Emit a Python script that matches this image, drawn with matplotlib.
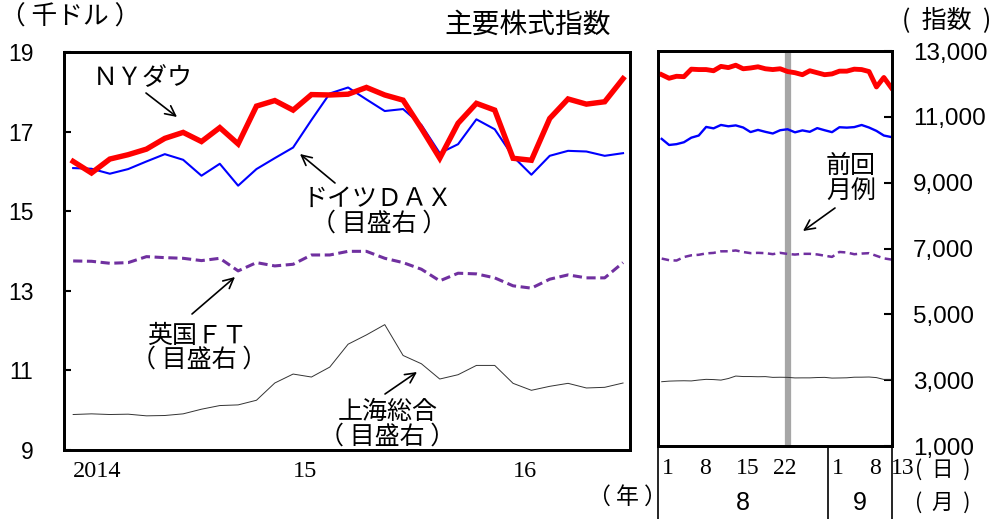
import matplotlib
matplotlib.use('Agg')
import matplotlib.pyplot as plt
import matplotlib.transforms as mtransforms

plt.rcParams['font.family'] = ['Noto Sans CJK JP', 'DejaVu Sans']

W, H = 993, 519

# monthly averages, 2014/1 - 2016/7
months = list(range(31))
dow_m = [16.25, 15.96, 16.31, 16.42, 16.56, 16.83, 16.98, 16.75, 17.10, 16.69, 17.64, 17.78,
         17.54, 17.93, 17.92, 17.94, 18.11, 17.92, 17.79, 17.08, 16.33, 17.21, 17.71, 17.54,
         16.33, 16.28, 17.33, 17.82, 17.69, 17.75, 18.33]
dax_m = [9500, 9480, 9330, 9470, 9700, 9920, 9750, 9270, 9630, 8970, 9470, 9800,
         10120, 10950, 11750, 11930, 11570, 11220, 11280, 10800, 9950, 10220, 10970, 10670,
         9850, 9300, 9870, 10020, 10000, 9870, 9950]
ftse_m = [6700, 6690, 6630, 6650, 6830, 6800, 6780, 6710, 6780, 6400, 6650, 6550,
          6600, 6880, 6880, 6990, 6990, 6780, 6650, 6450, 6100, 6330, 6310, 6190,
          5950, 5880, 6150, 6280, 6190, 6190, 6650]
sse_m = [2070, 2090, 2070, 2080, 2030, 2040, 2090, 2230, 2340, 2360, 2500, 3020,
         3290, 3200, 3500, 4190, 4470, 4780, 3850, 3600, 3140, 3270, 3550, 3550,
         3010, 2800, 2920, 3010, 2870, 2890, 3020]
year_ticks = [0, 12, 24]
year_labels = ['2014', '15', '16']

# daily, 8/1 - 9/13 (business days)
days = list(range(32))
dow_d = [18.40, 18.31, 18.36, 18.35, 18.54, 18.53, 18.53, 18.50, 18.61, 18.58, 18.64, 18.55,
         18.57, 18.60, 18.55, 18.53, 18.55, 18.48, 18.45, 18.40, 18.50, 18.45, 18.40, 18.42,
         18.49, 18.49, 18.54, 18.53, 18.48, 18.09, 18.33, 18.07]
dax_d = [10330, 10145, 10170, 10228, 10367, 10432, 10693, 10650, 10753, 10713, 10740, 10676,
         10537, 10603, 10544, 10494, 10593, 10623, 10529, 10588, 10545, 10657, 10593, 10534,
         10684, 10672, 10688, 10752, 10675, 10573, 10432, 10386]
ftse_d = [6694, 6645, 6634, 6740, 6793, 6809, 6851, 6866, 6914, 6916, 6941, 6893,
          6859, 6868, 6859, 6828, 6868, 6835, 6816, 6838, 6838, 6820, 6782, 6745,
          6895, 6879, 6826, 6846, 6858, 6777, 6700, 6665]
sse_d = [2953, 2971, 2978, 2982, 2977, 3004, 3025, 3018, 3002, 3050, 3125, 3110,
         3110, 3104, 3108, 3085, 3089, 3085, 3068, 3070, 3070, 3080, 3085, 3063,
         3067, 3072, 3090, 3091, 3096, 3078, 3022, 3023]
day_ticks = [0, 5, 10, 15, 23, 28, 31]
day_labels = ['1', '8', '15', '22', '1', '8', '13']
month_pos = [11, 26.8]
month_labels = ['8', '9']
month_split = 22.5
prev_report = 17

left_ticks = [9, 11, 13, 15, 17, 19]
right_ticks = [1000, 3000, 5000, 7000, 9000, 11000, 13000]


def fx(x):
    return x / W


def fy(y):
    return 1 - y / H


RED, BLUE, PURPLE = '#FF0000', '#0000FF', '#7030A0'

fig = plt.figure(figsize=(9.93, 5.19), dpi=100)

# ---- left panel (monthly)
ax1 = fig.add_axes([fx(64), fy(450), (630 - 64) / W, (450 - 52) / H])
ax1b = ax1.twinx()
ax1.set_zorder(ax1b.get_zorder() + 1)
ax1.patch.set_visible(False)

ax1b.plot(months, sse_m, color='#333333', lw=0.7)
ax1b.plot(months, ftse_m, color=PURPLE, lw=2.2, ls=(0, (3, 1.5)))
ax1b.plot(months, dax_m, color=BLUE, lw=1.5)
ax1.plot(months, dow_m, color=RED, lw=3.9, solid_joinstyle='miter')

ax1.set_xlim(-0.5, 30.38)
ax1.set_ylim(9, 19)
ax1b.set_ylim(1000, 13000)
ax1.set_xticks([])
ax1b.set_yticks([])
ax1.set_yticks(left_ticks)
ax1.tick_params(axis='y', direction='in', length=5, width=1.5, pad=22,
                labelsize=16.5, labelfontfamily='Liberation Sans')
for a in (ax1, ax1b):
    for s in a.spines.values():
        s.set_linewidth(2)

tr1 = mtransforms.blended_transform_factory(ax1.transData, ax1.transAxes)
for m, lab in zip(year_ticks, year_labels):
    ax1.text(m, -0.053, lab, transform=tr1, ha='left', va='center',
             fontsize=17.5, family='Liberation Serif')

# ---- right panel (daily)
ax2 = fig.add_axes([fx(658), fy(446), (892 - 658) / W, (446 - 51) / H])
ax2b = ax2.twinx()
ax2.set_zorder(ax2b.get_zorder() + 1)
ax2.patch.set_visible(False)

ax2b.axvline(prev_report, color='#A6A6A6', lw=4.5, zorder=0)
ax2b.plot(days, sse_d, color='#333333', lw=0.7)
ax2b.plot(days, ftse_d, color=PURPLE, lw=1.8, ls=(0, (3, 1.8)))
ax2b.plot(days, dax_d, color=BLUE, lw=1.7)
ax2.plot(days, dow_d, color=RED, lw=3.5)

ax2.set_xlim(-0.5, 31.1)
ax2.set_ylim(9, 19)
ax2b.set_ylim(1000, 13000)
ax2.set_xticks([])
ax2.set_yticks([])
ax2b.set_yticks(right_ticks)
ax2b.set_yticklabels([f'{v:,}' for v in right_ticks])
ax2b.tick_params(axis='y', direction='in', length=6, width=1.5, pad=15,
                 labelsize=17.5, labelfontfamily='Liberation Sans')
for a in (ax2, ax2b):
    for s in a.spines.values():
        s.set_linewidth(2)

# separators under the right panel
for xv in (ax2.get_xlim()[0], month_split, ax2.get_xlim()[1]):
    ax2.axvline(xv, ymin=-0.185, ymax=0, clip_on=False, color='black', lw=1.2)

tr2 = mtransforms.blended_transform_factory(ax2.transData, ax2.transAxes)
for d, lab in zip(day_ticks, day_labels):
    ax2.text(d, -0.056, lab, transform=tr2, ha='left', va='center',
             fontsize=17, family='Liberation Serif', clip_on=False)
for p, lab in zip(month_pos, month_labels):
    ax2.text(p, -0.145, lab, transform=tr2, ha='center', va='center',
             fontsize=18, family='Liberation Sans')

# ---- titles and units
fig.text(fx(528), fy(25), '主要株式指数', ha='center', va='center', fontsize=20)
fig.text(fx(70), fy(18), '（ 千ドル ）', ha='center', va='center', fontsize=18.5)
fig.text(fx(947), fy(20), '(  指数  )', ha='center', va='center', fontsize=18)
fig.text(fx(627), fy(497), '（ 年 ）', ha='center', va='center', fontsize=16.5)
fig.text(fx(943), fy(470), '(  日  )', ha='center', va='center', fontsize=15.5)
fig.text(fx(943), fy(503), '(  月  )', ha='center', va='center', fontsize=15.5)

# ---- annotations
labels = [
    (143, 78, 'ＮＹダウ'),
    (378, 199, 'ドイツＤＡＸ'),
    (379, 224, '（ 目盛右 ）'),
    (197, 336, '英国ＦＴ'),
    (199, 360, '（ 目盛右 ）'),
    (388, 412, '上海総合'),
    (387, 437, '（ 目盛右 ）'),
    (851, 166, '前回'),
    (851, 192, '月例'),
]
for x, y, s in labels:
    fig.text(fx(x), fy(y), s, ha='center', va='center', fontsize=18)

arrows = [
    ((146, 93), (177, 117)),
    ((335, 183), (300, 154)),
    ((192, 314), (235, 277)),
    ((385, 394), (417, 372)),
    ((835, 208), (803, 231)),
]
for (x0, y0), (x1, y1) in arrows:
    ax1.annotate('', xy=(fx(x1), fy(y1)), xytext=(fx(x0), fy(y0)),
                 xycoords='figure fraction', textcoords='figure fraction',
                 arrowprops=dict(arrowstyle='->', color='black', lw=1.2,
                                 mutation_scale=18, shrinkA=0, shrinkB=0),
                 annotation_clip=False)

fig.savefig('out.png', dpi=100)
